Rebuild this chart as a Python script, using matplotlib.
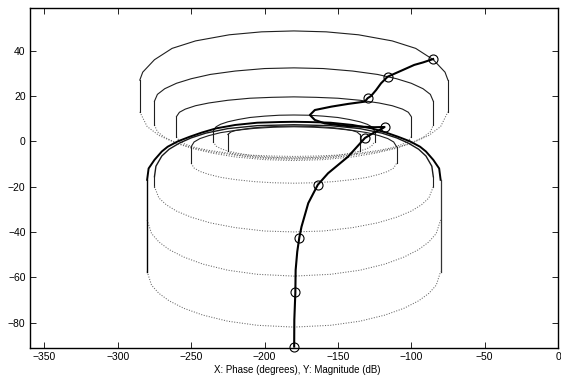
import matplotlib
matplotlib.use('Agg')
import matplotlib.pyplot as plt

plt.rcParams['font.family'] = ['Liberation Sans', 'DejaVu Sans']

# ---- grid contours: (phase deg, magnitude dB) ----
c1_top_ph = [-285, -283, -275, -263, -247, -224, -202, -180, -158, -136, -113, -97, -85, -77, -75]
c1_top_db = [27, 30.5, 36, 41, 44.3, 47, 48.3, 48.7, 48.3, 47, 44.3, 41, 36, 30.5, 27]
c1_bot_ph = [-285, -280, -272, -260, -249, -235, -220, -200, -180, -160, -140, -125, -111, -100, -88, -80, -75]
c1_bot_db = [13, 6.5, 2.6, -0.9, -3.2, -5.3, -6.9, -8.1, -8.5, -8.1, -6.9, -5.3, -3.2, -0.9, 2.6, 6.5, 13]

c2_ph = [-275, -273, -268, -260, -250, -237, -220, -200, -180, -160, -140, -123, -110, -100, -92, -87, -85]
c2_top_db = [17.7, 20.7, 23.2, 25.6, 27.6, 29.5, 31.0, 32.1, 32.4, 32.1, 31.0, 29.5, 27.6, 25.6, 23.2, 20.7, 17.7]
c2_bot_db = [7.2, 4.2, 1.7, -0.7, -2.7, -4.6, -6.1, -7.2, -7.5, -7.2, -6.1, -4.6, -2.7, -0.7, 1.7, 4.2, 7.2]

c3_ph = [-260, -258, -254, -247, -238, -225, -210, -195, -180, -165, -150, -135, -122, -113, -106, -102, -100]
c3_top_db = [10.9, 12.8, 14.2, 15.7, 16.9, 18.1, 19.0, 19.4, 19.6, 19.4, 19.0, 18.1, 16.9, 15.7, 14.2, 12.8, 10.9]
c3_bot_db = [2.0, 0.1, -1.3, -2.8, -4.0, -5.2, -6.1, -6.5, -6.7, -6.5, -6.1, -5.2, -4.0, -2.8, -1.3, 0.1, 2.0]

c4_ph = [-250, -248, -244, -238, -230, -220, -207, -194, -180, -166, -153, -140, -130, -122, -116, -112, -110]
c4_top_db = [-2.4, -0.3, 1.2, 2.5, 3.8, 4.8, 5.7, 6.2, 6.4, 6.2, 5.7, 4.8, 3.8, 2.5, 1.2, -0.3, -2.4]
c4_bot_db = [-9.7, -11.8, -13.3, -14.6, -15.9, -16.9, -17.8, -18.3, -18.5, -18.3, -17.8, -16.9, -15.9, -14.6, -13.3, -11.8, -9.7]

c5_ph = [-235, -233, -230, -225, -218, -210, -200, -190, -180, -170, -160, -150, -142, -135, -130, -127, -125]
c5_top_db = [4.5, 6.4, 7.5, 8.6, 9.6, 10.5, 11.1, 11.5, 11.6, 11.5, 11.1, 10.5, 9.6, 8.6, 7.5, 6.4, 4.5]
c5_bot_db = [-0.2, -2.1, -3.2, -4.3, -5.3, -6.2, -6.8, -7.2, -7.3, -7.2, -6.8, -6.2, -5.3, -4.3, -3.2, -2.1, -0.2]

c6_ph = [-225, -223, -220, -215, -208, -200, -190, -180, -170, -160, -152, -145, -140, -137, -135]
c6_top_db = [3.0, 4.1, 4.7, 5.3, 5.9, 6.3, 6.6, 6.7, 6.6, 6.3, 5.9, 5.3, 4.7, 4.1, 3.0]
c6_bot_db = [-4.2, -5.3, -5.9, -6.5, -7.1, -7.5, -7.8, -7.9, -7.8, -7.5, -7.1, -6.5, -5.9, -5.3, -4.2]

# bold contour
c7_top_ph = [-280, -279, -275, -270, -266, -259, -251, -243, -233, -220, -205, -190, -180,
             -170, -155, -140, -127, -117, -109, -101, -94, -90, -85, -81, -80]
c7_top_db = [-17, -12, -8.2, -4.5, -2.4, 0, 2.0, 3.8, 5.7, 7.2, 8.2, 8.5, 8.6,
             8.5, 8.2, 7.2, 5.7, 3.8, 2.0, 0, -2.4, -4.5, -8.2, -12, -17]
c7_side_db = [-17, -57.5]
c7_bot_ph = [-280, -277, -272, -265, -255, -242, -225, -205, -180, -155, -135, -118, -105, -95, -88, -83, -80]
c7_bot_db = [-57.5, -63.5, -67.1, -70.4, -73.7, -76.7, -79.4, -81.2, -82, -81.2, -79.4, -76.7, -73.7, -70.4, -67.1, -63.5, -57.5]
c9_bot_db = [-34.7, -40.7, -44.4, -47.8, -51.1, -54.2, -56.9, -58.7, -59.5, -58.7, -56.9, -54.2, -51.1, -47.8, -44.4, -40.7, -34.7]

c8_top_ph = [-275, -274, -270, -265, -258, -250, -240, -225, -205, -180,
             -155, -135, -120, -110, -102, -95, -90, -86, -85]
c8_top_db = [-15.6, -11, -6.5, -3.5, -0.8, 1.5, 3.6, 5.6, 6.9, 7.3,
             6.9, 5.6, 3.6, 1.5, -0.8, -3.5, -6.5, -11, -15.6]
c8_side_db = [-15.6, -20]
c8_bot_ph = [-275, -272, -267, -260, -250, -237, -220, -200, -180, -160, -140, -123, -110, -100, -93, -88, -85]
c8_bot_db = [-20, -25, -28, -30.8, -33.5, -36, -38.1, -39.6, -40, -39.6, -38.1, -36, -33.5, -30.8, -28, -25, -20]

# open-loop response
ol_ph = [-85.1, -92, -98, -107, -116.1, -120.6, -124, -127.4, -129.8, -131.6, -143, -154.4, -165.7,
         -169.1, -165.7, -158.9, -143.1, -125, -118.2, -120.6, -126, -131.5, -143.1, -156.7, -163.7,
         -170.2, -174.8, -176.3, -177.7, -178.8, -179.0, -179.7, -179.8]
ol_db = [36.3, 34.8, 33.7, 31.1, 28.5, 25.6, 22.6, 20.0, 19.0, 17.5, 16.5, 15.3, 13.8,
         11.6, 9.4, 7.9, 6.7, 6.2, 6.3, 5.3, 3.6, 1.5, -6.8, -14.1, -19.2,
         -27.3, -37.7, -42.5, -48.7, -56.8, -66.7, -78.8, -90.6]
mk_ph = [-85.1, -116.1, -129.8, -118.2, -131.5, -163.7, -176.3, -179.0, -179.8]
mk_db = [36.3, 28.5, 19.0, 6.3, 1.5, -19.2, -42.5, -66.7, -90.6]

fig = plt.figure(figsize=(5.61, 3.76), dpi=100)
ax = fig.add_axes([0.053, 0.074, 0.9417, 0.904])

solid = dict(color='0.12', lw=0.8)
dots = dict(color='0.4', lw=0.75, linestyle=(0, (1, 1.5)))


def cylinder(ph_top, db_top, ph_bot, db_bot):
    ax.plot(ph_top, db_top, **solid)
    ax.plot(ph_bot, db_bot, **dots)
    ax.plot([ph_top[0], ph_top[0]], [db_top[0], db_bot[0]], **solid)
    ax.plot([ph_top[-1], ph_top[-1]], [db_top[-1], db_bot[-1]], **solid)


cylinder(c1_top_ph, c1_top_db, c1_bot_ph, c1_bot_db)
cylinder(c2_ph, c2_top_db, c2_ph, c2_bot_db)
cylinder(c3_ph, c3_top_db, c3_ph, c3_bot_db)
cylinder(c4_ph, c4_top_db, c4_ph, c4_bot_db)
cylinder(c5_ph, c5_top_db, c5_ph, c5_bot_db)
cylinder(c6_ph, c6_top_db, c6_ph, c6_bot_db)

# lower contours
ax.plot(c8_top_ph, c8_top_db, color='0.1', lw=1.0)
ax.plot([c8_top_ph[0]] * 2, c8_side_db, **solid)
ax.plot([c8_top_ph[-1]] * 2, c8_side_db, **solid)
ax.plot(c8_bot_ph, c8_bot_db, **dots)
ax.plot(c7_bot_ph, c9_bot_db, **dots)
ax.plot(c7_bot_ph, c7_bot_db, **dots)

ax.plot(c7_top_ph, c7_top_db, color='black', lw=1.4)
ax.plot([c7_top_ph[0]] * 2, c7_side_db, color='black', lw=1.0)
ax.plot([c7_top_ph[-1]] * 2, c7_side_db, color='0.2', lw=0.9)

ax.plot(ol_ph, ol_db, color='black', lw=1.5)
ax.plot(mk_ph, mk_db, 'o', mfc='none', mec='black', ms=6.5, mew=0.8, clip_on=False)

ax.set_xlim(-360, 0)
ax.set_ylim(-91.3, 58.7)
ax.set_xticks(range(-350, 1, 50))
ax.set_yticks(range(-80, 41, 20))
ax.tick_params(direction='in', top=True, right=True, labelsize=7.5, length=4, width=0.6, pad=3)
for s in ax.spines.values():
    s.set_linewidth(1.0)
fig.text(0.53, 0.003, 'X: Phase (degrees), Y: Magnitude (dB)', ha='center', va='bottom', fontsize=7)

fig.savefig('out.png', dpi=100)
